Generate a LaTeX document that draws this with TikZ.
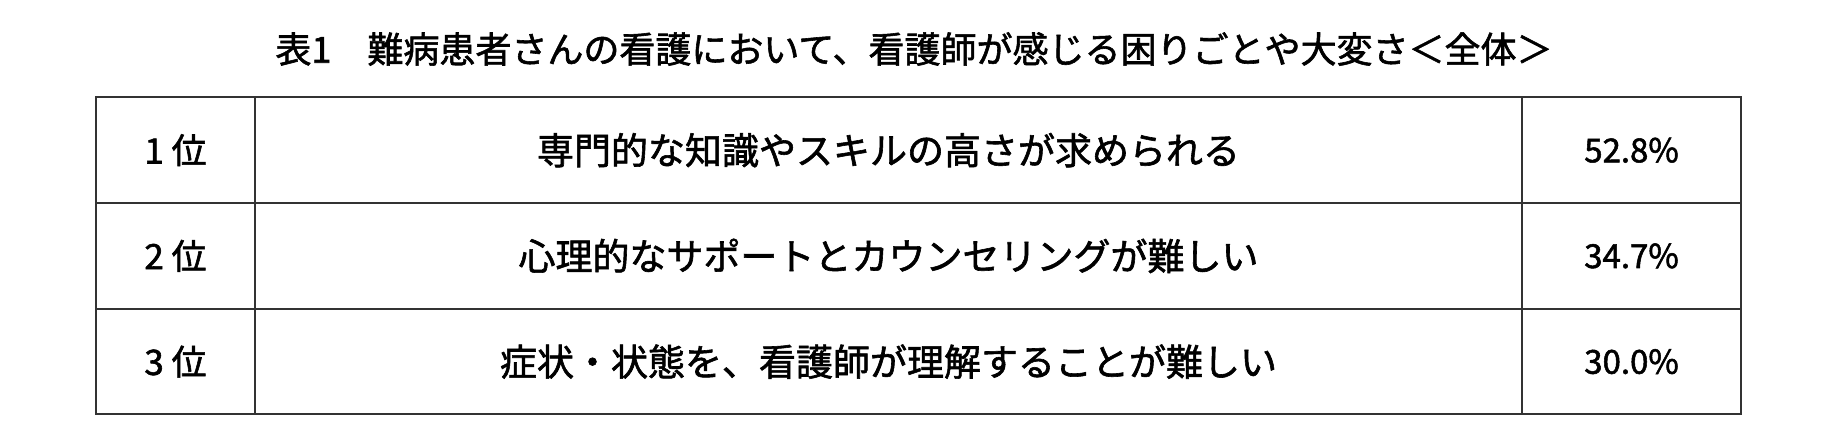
\documentclass[tikz,border=0pt]{standalone}
\usepackage{fontspec}
\setmainfont{Noto Sans CJK JP}
\newfontfamily\jpheavy[FakeBold=1.6]{Noto Sans CJK JP}
\usetikzlibrary{positioning}

\definecolor{rulegray}{HTML}{333333}
\tikzset{
  cell/.style={draw=rulegray, line width=2pt, inner sep=0pt, minimum height=105.7pt,
    font=\jpheavy\fontsize{37pt}{42pt}\selectfont},
  rankcell/.style={cell, minimum width=159pt, font=\jpheavy\fontsize{35pt}{40pt}\selectfont},
  itemcell/.style={cell, minimum width=1267pt},
  ratecell/.style={cell, minimum width=219pt, font=\jpheavy\fontsize{33pt}{38pt}\selectfont},
}

\begin{document}
\begin{tikzpicture}[x=1pt, y=-1pt]
  \useasboundingbox (0,0) rectangle (1843,447);

  % Title
  \node[font=\jpheavy\fontsize{36pt}{42pt}\selectfont] (title) at (914,49)
    {表1　難病患者さんの看護において、看護師が感じる困りごとや大変さ＜全体＞};

  % Rows
  \node[rankcell] (rank1) at (175.5,150.2) {1 位};
  \node[itemcell] (item1) at (888.5,150.2) {専門的な知識やスキルの高さが求められる};
  \node[ratecell] (rate1) at (1631.5,150.2) {52.8\%};

  \node[rankcell] (rank2) at (175.5,255.9) {2 位};
  \node[itemcell] (item2) at (888.5,255.9) {心理的なサポートとカウンセリングが難しい};
  \node[ratecell] (rate2) at (1631.5,255.9) {34.7\%};

  \node[rankcell] (rank3) at (175.5,361.6) {3 位};
  \node[itemcell] (item3) at (888.5,361.6) {症状・状態を、看護師が理解することが難しい};
  \node[ratecell] (rate3) at (1631.5,361.6) {30.0\%};

\end{tikzpicture}
\end{document}
